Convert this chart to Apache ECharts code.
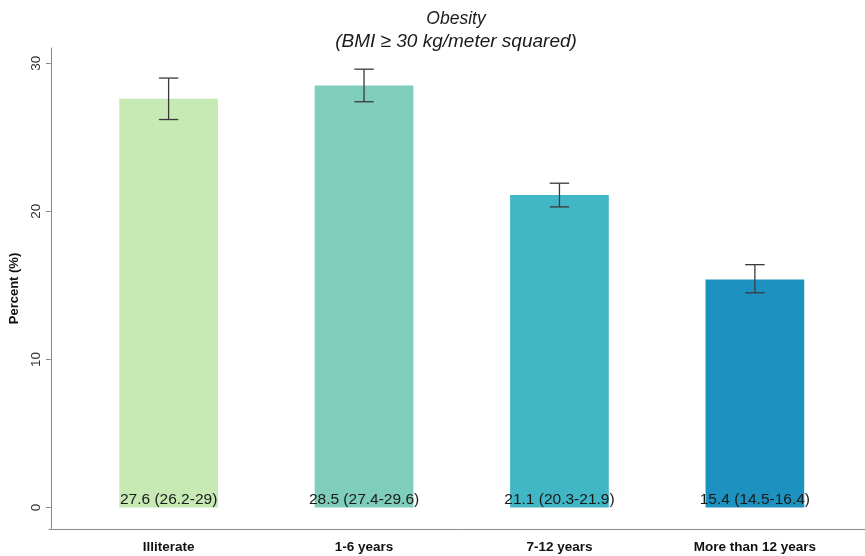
<!DOCTYPE html>
<html>
<head>
<meta charset="utf-8">
<script src="https://cdn.jsdelivr.net/npm/echarts@6/dist/echarts.min.js"></script>
<style>
  html, body { margin: 0; padding: 0; background: #fff; }
  #chart { width: 865px; height: 556px; }
</style>
</head>
<body>
<div id="chart"></div>
<script>
// Obesity prevalence by education level, with 95% confidence intervals
const categories = ['Illiterate', '1-6 years', '7-12 years', 'More than 12 years'];
const percent = [27.6, 28.5, 21.1, 15.4];
const ciLow = [26.2, 27.4, 20.3, 14.5];
const ciHigh = [29, 29.6, 21.9, 16.4];
const yTicks = [0, 10, 20, 30];

// YlGnBu shades, one per bar
const palette = ['#c7e9b4', '#7fcdbb', '#41b6c4', '#1d91c0'];

const FONT = '"Liberation Sans", Arial, sans-serif';
const AXIS_GRAY = '#8a8a8a';

const barData = percent.map((v, i) => ({
  value: v,
  itemStyle: { color: palette[i] }
}));

const errData = categories.map((c, i) => [i, ciLow[i], ciHigh[i]]);

function renderErrorBar(params, api) {
  const x = api.value(0);
  const lo = api.coord([x, api.value(1)]);
  const hi = api.coord([x, api.value(2)]);
  const half = 9.7;
  const style = { stroke: '#3a3a3a', lineWidth: 1.3, fill: null };
  return {
    type: 'group',
    children: [
      { type: 'line', shape: { x1: lo[0], y1: lo[1], x2: hi[0], y2: hi[1] }, style },
      { type: 'line', shape: { x1: hi[0] - half, y1: hi[1], x2: hi[0] + half, y2: hi[1] }, style },
      { type: 'line', shape: { x1: lo[0] - half, y1: lo[1], x2: lo[0] + half, y2: lo[1] }, style }
    ]
  };
}

const chart = echarts.init(document.getElementById('chart'), null, { renderer: 'canvas' });

chart.setOption({
  animation: false,
  backgroundColor: '#fff',
  textStyle: { fontFamily: FONT },
  title: {
    text: '{a|Obesity}\n{b|(BMI ≥ 30 kg/meter squared)}',
    left: 451,
    textAlign: 'center',
    top: 3,
    textStyle: {
      fontFamily: FONT,
      fontStyle: 'italic',
      fontWeight: 'normal',
      color: '#1a1a1a',
      rich: {
        a: { fontFamily: FONT, fontStyle: 'italic', fontSize: 17.5, lineHeight: 22, color: '#1a1a1a' },
        b: { fontFamily: FONT, fontStyle: 'italic', fontSize: 19, lineHeight: 24, color: '#1a1a1a' }
      }
    }
  },
  grid: [
    { left: 69, right: 12.4, top: 48, bottom: 27, containLabel: false },
    { left: 49, right: 0, top: 48, bottom: 27, containLabel: false }
  ],
  xAxis: [
    {
      type: 'category',
      gridIndex: 0,
      data: categories,
      axisLine: { show: false },
      axisTick: { show: false },
      axisLabel: {
        margin: 11,
        fontFamily: FONT,
        fontSize: 13.5,
        fontWeight: 'bold',
        color: '#111'
      }
    },
    {
      type: 'value',
      gridIndex: 1,
      min: 0,
      max: 1,
      axisLine: { show: true, lineStyle: { color: AXIS_GRAY, width: 1 } },
      axisTick: { show: false },
      axisLabel: { show: false },
      splitLine: { show: false }
    }
  ],
  yAxis: [
    {
      type: 'value',
      gridIndex: 0,
      min: -1.45,
      max: 31.03,
      offset: 20,
      name: 'Percent (%)',
      nameLocation: 'middle',
      nameGap: 24,
      nameRotate: 90,
      nameTextStyle: {
        fontFamily: FONT,
        fontSize: 13,
        fontWeight: 'bold',
        color: '#111'
      },
      axisLine: { show: true, lineStyle: { color: AXIS_GRAY, width: 1 } },
      axisTick: {
        show: true,
        length: 5,
        customValues: yTicks,
        lineStyle: { color: AXIS_GRAY }
      },
      axisLabel: {
        customValues: yTicks,
        rotate: 90,
        margin: 8,
        fontFamily: FONT,
        fontSize: 13.5,
        color: '#333'
      },
      splitLine: { show: false }
    },
    {
      type: 'value',
      gridIndex: 1,
      min: 0,
      max: 1,
      show: false
    }
  ],
  series: [
    {
      type: 'bar',
      xAxisIndex: 0,
      yAxisIndex: 0,
      data: barData,
      barWidth: '50.5%',
      label: {
        show: true,
        position: 'insideBottom',
        distance: 0,
        fontFamily: FONT,
        fontSize: 15.5,
        color: '#1a1a1a',
        formatter: (p) => `${percent[p.dataIndex]} (${ciLow[p.dataIndex]}-${ciHigh[p.dataIndex]})`
      }
    },
    {
      type: 'custom',
      xAxisIndex: 0,
      yAxisIndex: 0,
      data: errData,
      renderItem: renderErrorBar,
      z: 3
    }
  ]
});
</script>
</body>
</html>
